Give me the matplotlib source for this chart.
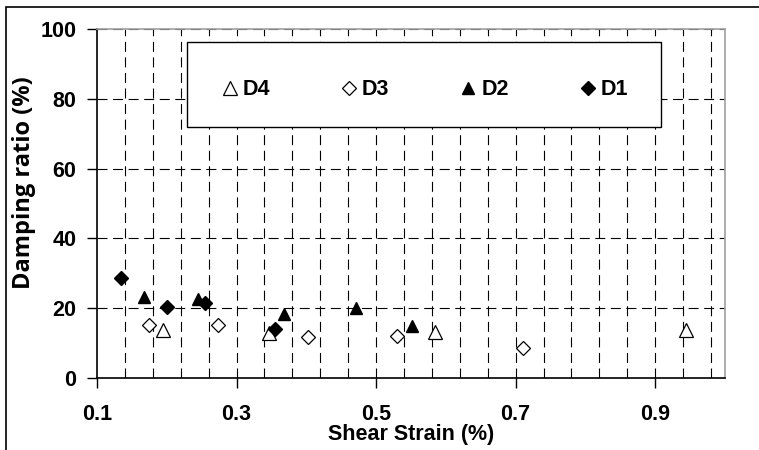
import numpy as np
import matplotlib.pyplot as plt
from matplotlib.patches import Rectangle

plt.rcParams['font.family'] = ['Liberation Sans', 'DejaVu Sans']
plt.rcParams['font.weight'] = 'bold'

# shear strain (%) and damping ratio (%) per specimen
d1_x = [0.135, 0.201, 0.255, 0.355]
d1_y = [28.7, 20.4, 21.6, 13.9]
d2_x = [0.167, 0.245, 0.368, 0.471, 0.552]
d2_y = [23.3, 22.6, 18.2, 20.1, 14.9]
d3_x = [0.175, 0.274, 0.402, 0.530, 0.710]
d3_y = [15.2, 15.2, 11.7, 12.0, 8.5]
d4_x = [0.195, 0.347, 0.585, 0.944]
d4_y = [13.8, 12.8, 13.3, 13.8]

fig = plt.figure(figsize=(7.59, 4.5), dpi=100)
ax = fig.add_axes([0.1278, 0.16, 0.8274, 0.7756])

# outer chart frame
fig.patches.append(Rectangle((6 / 759, -0.05), 1.2, 1 - 7 / 450 + 0.05,
                             transform=fig.transFigure, fill=False,
                             edgecolor='black', linewidth=1.2))

ax.set_xlim(0.1, 1.0)
ax.set_ylim(0, 100)

# dashed grid
dash = (0, (9, 5))
for gx in np.arange(0.14, 0.99, 0.04):
    ax.axvline(gx, color='black', linestyle=dash, linewidth=0.8, zorder=1)
for gy in [20, 40, 60, 80, 100]:
    ax.axhline(gy, color='black', linestyle=dash, linewidth=0.8, zorder=1)

ax.plot(d4_x, d4_y, '^', ms=9.5, mfc='white', mec='black', mew=0.9, ls='none', label='D4', zorder=3)
ax.plot(d3_x, d3_y, 'D', ms=7, mfc='white', mec='black', mew=0.9, ls='none', label='D3', zorder=3)
ax.plot(d2_x, d2_y, '^', ms=9, mfc='black', mec='black', ls='none', label='D2', zorder=3)
ax.plot(d1_x, d1_y, 'D', ms=7, mfc='black', mec='black', ls='none', label='D1', zorder=3)

ax.set_xticks([0.1, 0.3, 0.5, 0.7, 0.9])
ax.set_xticklabels(['0.1', '0.3', '0.5', '0.7', '0.9'])
ax.set_yticks([0, 20, 40, 60, 80, 100])
ax.tick_params(axis='both', direction='out', length=7, width=1, labelsize=15.5)
ax.tick_params(axis='x', pad=12)
ax.tick_params(axis='y', pad=8)

for s in ['left', 'bottom']:
    ax.spines[s].set_color('black')
    ax.spines[s].set_linewidth(1.2)
for s in ['top', 'right']:
    ax.spines[s].set_color('#a0a0a0')
    ax.spines[s].set_linewidth(1.2)

ax.set_xlabel('Shear Strain (%)', fontsize=15.5, fontweight='bold', va='center')
ax.xaxis.set_label_coords(0.5, -0.163)
ax.set_ylabel('Damping ratio (%)', fontsize=17, fontweight='bold', va='center',
              family=['Open Sans', 'DejaVu Sans'])
ax.yaxis.set_label_coords(-0.117, 0.56)

# legend box
ax.add_patch(Rectangle((0.143, 0.719), 0.755, 0.244, transform=ax.transAxes,
                       facecolor='white', edgecolor='black', linewidth=1.0, zorder=4))
leg = ax.legend(loc='center', bbox_to_anchor=(0.52, 0.826), ncol=4, frameon=False,
                handletextpad=0.1, columnspacing=3.17, handlelength=1.0,
                prop={'weight': 'bold', 'size': 15.5})
leg.set_zorder(5)

fig.savefig('out.png', dpi=100)
